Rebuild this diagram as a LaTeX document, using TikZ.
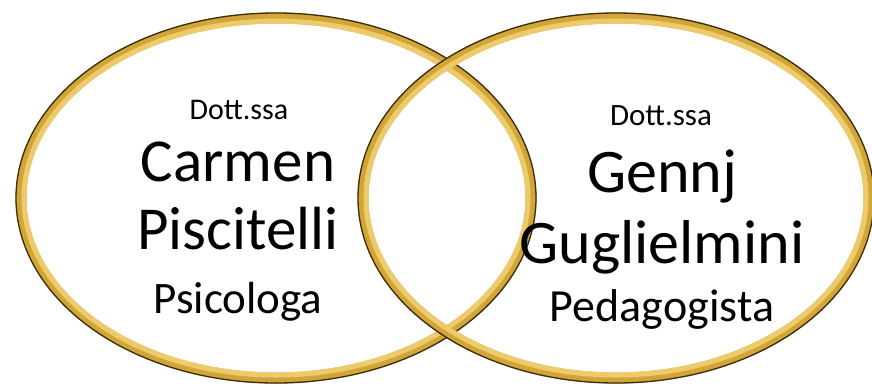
\documentclass[tikz,border=0pt]{standalone}
\usepackage{fontspec}
\setmainfont{Carlito}
\definecolor{goldmid}{HTML}{D2A636}
\definecolor{goldlight}{HTML}{EDCB6C}
\definecolor{golddark}{HTML}{3A2C10}
\tikzset{
  lbl/.style={anchor=base, inner sep=0pt, text=black},
}
\newcommand{\goldring}[3]{%
  \draw[goldmid, line width=11pt] (#1) ellipse [x radius=#2, y radius=#3];
  \draw[goldlight, line width=5pt] (#1) ellipse [x radius=#2-3, y radius=#3-3];
  \draw[golddark, line width=1.3pt] (#1) ellipse [x radius=#2+5, y radius=#3+5];
}
\begin{document}
\begin{tikzpicture}[x=1pt, y=-1pt]
\useasboundingbox (0,0) rectangle (872,386);
\fill[white] (0,0) rectangle (872,386);
\coordinate (cl) at (276,198);
\coordinate (cr) at (616,198);
\goldring{cl}{255}{180}
\goldring{cr}{253}{180}
% left texts
\node[lbl, font=\fontsize{30}{30}\selectfont] (l1) at (239,119) {Dott.ssa};
\node[lbl, font=\fontsize{61}{61}\selectfont] (l2) at (238,181) {Carmen};
\node[lbl, font=\fontsize{61}{61}\selectfont] (l3) at (238,249) {Piscitelli};
\node[lbl, font=\fontsize{45}{45}\selectfont] (l4) at (238,313) {Psicologa};
% right texts
\node[lbl, font=\fontsize{31}{31}\selectfont] (r1) at (661,125) {Dott.ssa};
\node[lbl, font=\fontsize{62}{62}\selectfont] (r2) at (662,192) {Gennj};
\node[lbl, font=\fontsize{62}{62}\selectfont] (r3) at (662,263) {Guglielmini};
\node[lbl, font=\fontsize{46}{46}\selectfont] (r4) at (662,321) {Pedagogista};
\end{tikzpicture}
\end{document}
